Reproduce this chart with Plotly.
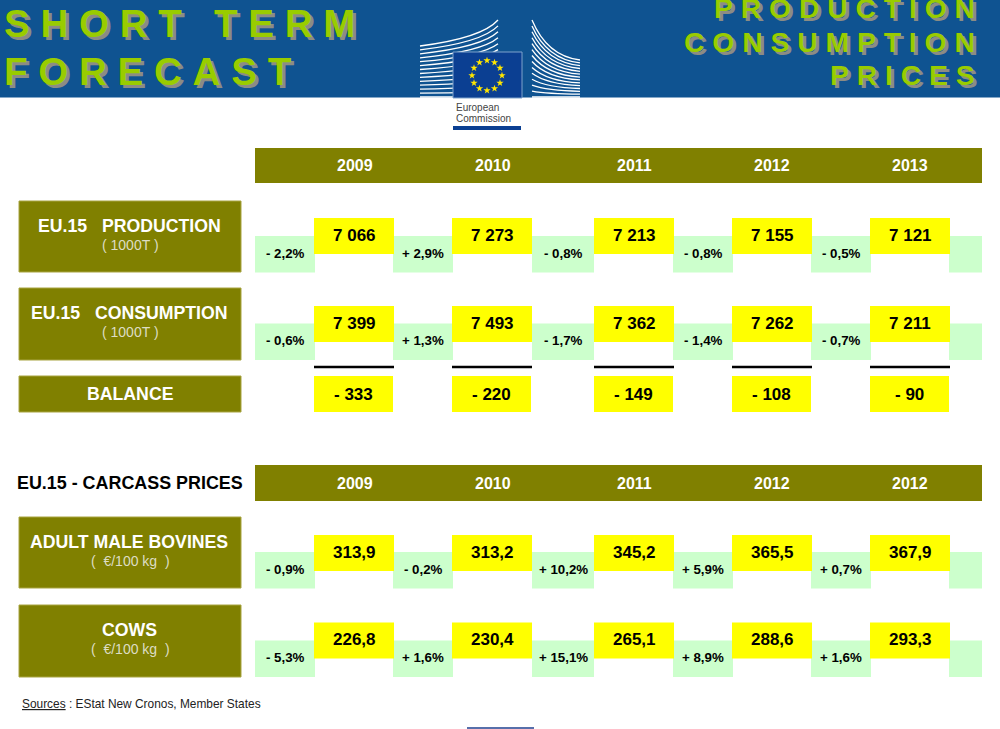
import math
import plotly.graph_objects as go

# values
years_supply = ["2009", "2010", "2011", "2012", "2013"]
years_prices = ["2009", "2010", "2011", "2012", "2012"]

production = ["7 066", "7 273", "7 213", "7 155", "7 121"]
production_pct = ["- 2,2%", "+ 2,9%", "- 0,8%", "- 0,8%", "- 0,5%", ""]
consumption = ["7 399", "7 493", "7 362", "7 262", "7 211"]
consumption_pct = ["- 0,6%", "+ 1,3%", "- 1,7%", "- 1,4%", "- 0,7%", ""]
balance = ["- 333", "- 220", "- 149", "- 108", "- 90"]
male_bovines = ["313,9", "313,2", "345,2", "365,5", "367,9"]
male_bovines_pct = ["- 0,9%", "- 0,2%", "+ 10,2%", "+ 5,9%", "+ 0,7%", ""]
cows = ["226,8", "230,4", "265,1", "288,6", "293,3"]
cows_pct = ["- 5,3%", "+ 1,6%", "+ 15,1%", "+ 8,9%", "+ 1,6%", ""]

# page layout, in pixels of the 1000x729 page
YELLOW_X = [(314, 394), (452, 532), (594, 674), (732, 812), (870, 950)]
GREEN_X = [(255, 315), (393, 453), (532, 594), (673, 733), (811, 871), (949, 982)]
YEAR_CENTERS = [355, 493, 634, 772, 910]

OLIVE = "#808000"
YELLOW = "#FFFF00"
GREEN = "#CCFFCC"
BLUE = "#0F5391"
LIME = "#99CC00"
SHADOW = "3px 3px 0 #8C8C84"
FONT = "Liberation Sans"

shapes = []
annotations = []


def box(x0, x1, y0, y1, color, line=None):
    shapes.append(dict(type="rect", x0=x0, x1=x1, y0=y0, y1=y1, fillcolor=color,
                       line=dict(color=line or color, width=1 if line else 0), layer="below"))


def label(x, y, text, size, color="black", bold=False, anchor="center", shadow=None):
    font = dict(family=FONT, size=size, color=color)
    if shadow:
        font["shadow"] = shadow
    annotations.append(dict(x=x, y=y, text=f"<b>{text}</b>" if bold else text, showarrow=False,
                            xanchor=anchor, yanchor="middle", xref="x", yref="y", font=font))


def spaced(text):
    # the banner letters are set wide apart
    return "\u00a0".join(text).replace("\u00a0 \u00a0", "\u00a0\u00a0\u00a0")


def banner(x, y, text, size, anchor):
    label(x, y, spaced(text), size, LIME, True, anchor, SHADOW)


def row(y_yellow, y_green, values, pcts):
    for (x0, x1), pct in zip(GREEN_X, pcts):
        box(x0, x1, y_green, y_green + 36.5, GREEN)
        if pct:
            label((x0 + x1) / 2, y_green + 17, pct, 13.3, "black", True)
    for (x0, x1), value in zip(YELLOW_X, values):
        box(x0, x1, y_yellow, y_yellow + 36, YELLOW)
        label((x0 + x1) / 2, y_yellow + 17, value, 17, "black", True)


def year_band(y0, y1, years):
    box(255, 982, y0, y1, OLIVE)
    for x, year in zip(YEAR_CENTERS, years):
        label(x, (y0 + y1) / 2, year, 16, "white", True)


def row_title(y0, y1, title, unit=None):
    box(19, 241, y0, y1, OLIVE, "#A8A440")
    if unit:
        label(129, y0 + 25, title, 17.7, "white", True)
        label(130, y0 + 44, unit, 14, "#DDDDC4")
    else:
        label(130, (y0 + y1) / 2, title, 17.7, "white", True)


# header band and logo
box(0, 1000, 0, 97.5, BLUE)

for k in range(14):
    t = k / 13
    y_a = 46 + (97 - 46) * t
    y_b = 38 + (97 - 38) * t
    y_c = 20 + (97 - 20) * t
    shapes.append(dict(type="path", path=f"M 420 {y_a:.1f} Q 482 {y_b:.1f} 498 {y_c:.1f}",
                       line=dict(color="white", width=1.3), layer="below"))
    y_a = 20 + (97 - 20) * t
    y_b = 56 + (97 - 56) * t
    y_c = 60 + (97 - 60) * t
    shapes.append(dict(type="path", path=f"M 532 {y_a:.1f} Q 547 {y_b:.1f} 580 {y_c:.1f}",
                       line=dict(color="white", width=1.3), layer="below"))

shapes.append(dict(type="rect", x0=453, x1=522, y0=52, y1=98, fillcolor="#0B3F92",
                   line=dict(color="#7FA3CC", width=1), layer="below"))
box(453, 521, 126, 130, "#0B3F92")
label(454, 107, "European", 10, "#444444", anchor="left")
label(454, 118, "Commission", 10, "#444444", anchor="left")

banner(2, 23, "SHORT TERM", 38.6, "left")
banner(2, 71, "FORECAST", 38.6, "left")
banner(977, 8, "PRODUCTION", 28.3, "right")
banner(977, 42, "CONSUMPTION", 28.3, "right")
banner(977, 75, "PRICES", 28.3, "right")

# supply table
year_band(148, 183, years_supply)
row_title(201, 272, "EU.15&nbsp;&nbsp;&nbsp;PRODUCTION", "( 1000T )")
row(218, 236, production, production_pct)
row_title(288, 360, "EU.15&nbsp;&nbsp;&nbsp;CONSUMPTION", "( 1000T )")
row(306, 323.5, consumption, consumption_pct)
row_title(376, 412, "BALANCE")
for (x0, x1), value in zip(YELLOW_X, balance):
    shapes.append(dict(type="line", x0=x0, x1=x1, y0=367, y1=367, line=dict(color="black", width=2.5)))
    box(x0, x1 - 1, 376, 412, YELLOW)
    label((x0 + x1) / 2 - 1, 394, value, 17, "black", True)

# price table
label(130, 483, "EU.15 - CARCASS PRICES", 17.9, "black", True)
year_band(465, 501, years_prices)
row_title(517, 588, "ADULT MALE BOVINES", "(&nbsp;&nbsp;€/100 kg&nbsp;&nbsp;)")
row(535, 552, male_bovines, male_bovines_pct)
row_title(605, 677, "COWS", "(&nbsp;&nbsp;€/100 kg&nbsp;&nbsp;)")
row(622.5, 640.5, cows, cows_pct)

label(20, 704, "<u>Sources</u> : EStat New Cronos, Member States", 11.9, "#222222", anchor="left")
shapes.append(dict(type="line", x0=467, x1=534, y0=728, y1=728, line=dict(color="#1F3F8F", width=1.5)))

# twelve flag stars on a ring
star_x = [487 + 15 * math.sin(math.radians(30 * i)) for i in range(12)]
star_y = [75.5 - 15 * math.cos(math.radians(30 * i)) for i in range(12)]

fig = go.Figure(go.Scatter(x=star_x, y=star_y, mode="markers", hoverinfo="skip", cliponaxis=False,
                           marker=dict(symbol="star", size=5.5, color="#FFE600", line=dict(width=0))))
fig.update_layout(
    width=1000, height=729, margin=dict(l=0, r=0, t=0, b=0), autosize=False,
    paper_bgcolor="white", plot_bgcolor="white", showlegend=False,
    shapes=shapes, annotations=annotations,
)
fig.update_xaxes(range=[0, 1000], visible=False, fixedrange=True)
fig.update_yaxes(range=[729, 0], visible=False, fixedrange=True)
fig.write_html("out.html", config={"displayModeBar": False, "responsive": False},
               post_script="document.body.style.margin = '0'; document.documentElement.style.overflow = 'hidden';")
